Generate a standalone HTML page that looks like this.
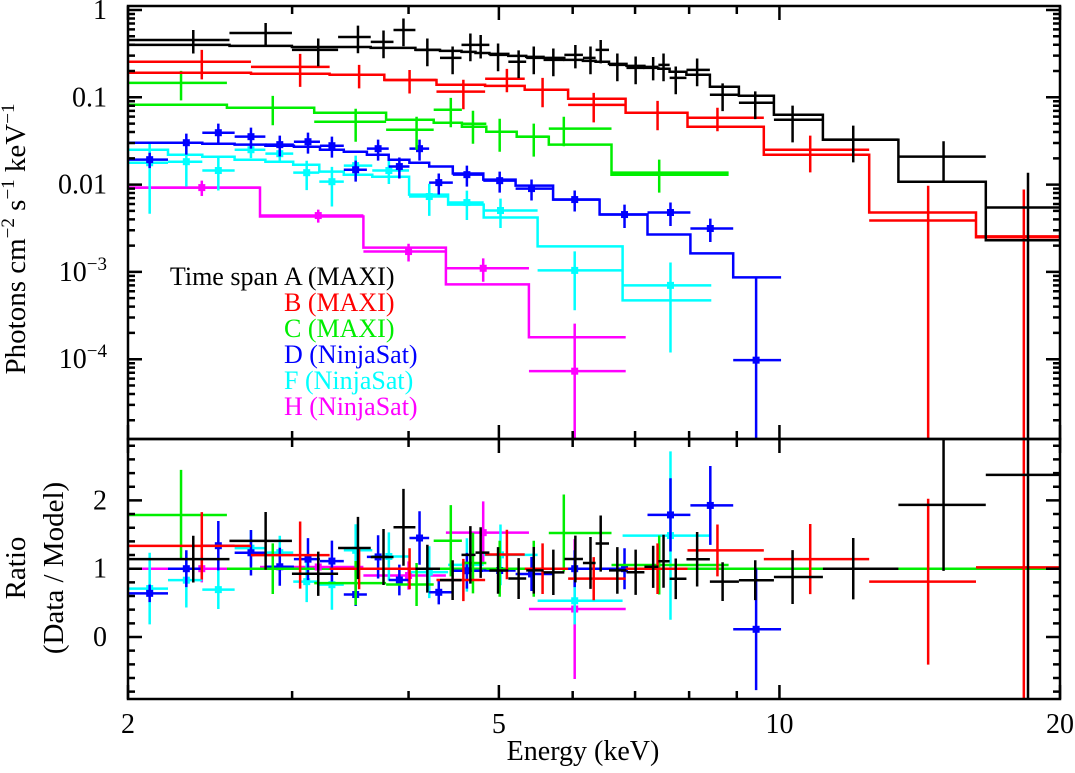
<!DOCTYPE html>
<html><head><meta charset="utf-8"><style>
html,body{margin:0;padding:0;background:#fff;}
svg{display:block;font-family:"Liberation Serif",serif;}
</style></head><body>
<svg id="chart" width="1075" height="773" viewBox="0 0 1075 773" xmlns="http://www.w3.org/2000/svg">
<defs>
<clipPath id="cTop"><rect x="128" y="6" width="932" height="433"/></clipPath>
<clipPath id="cBot"><rect x="128" y="439" width="932" height="260"/></clipPath>
</defs>
<g id="marks"></g>
<g id="axes"></g>
<g id="legend" font-size="26">
<text x="284" y="285" fill="#000"><tspan x="278" text-anchor="end">Time span</tspan><tspan x="284">A (MAXI)</tspan></text>
<text x="284" y="311" fill="#ff0000">B (MAXI)</text>
<text x="284" y="337" fill="#00ee00">C (MAXI)</text>
<text x="284" y="363" fill="#0000ff">D (NinjaSat)</text>
<text x="284" y="389" fill="#00ffff">F (NinjaSat)</text>
<text x="284" y="415" fill="#ff00ff">H (NinjaSat)</text>
</g>
<text font-size="29" text-anchor="middle" transform="translate(25,239) rotate(-90)">Photons cm<tspan dy="-11" font-size="19">−2</tspan><tspan dy="11"> s</tspan><tspan dy="-11" font-size="19">−1</tspan><tspan dy="11"> keV</tspan><tspan dy="-11" font-size="19">−1</tspan></text>
<text font-size="29" text-anchor="middle" transform="translate(25,568) rotate(-90)">Ratio</text>
<text font-size="29" text-anchor="middle" transform="translate(63,568) rotate(-90)">(Data / Model)</text>
<text font-size="28" text-anchor="middle" x="583" y="760">Energy (keV)</text>
</svg>
<script>
// ---- data ----
const aE=[2.35,2.81,3.20,3.53,3.76,3.95,4.19,4.46,4.66,4.78,4.99,5.25,5.45,5.72,6.04,6.27,6.43,6.70,7.01,7.32,7.51,7.74,8.16,8.69,9.42,10.33,12.0,15.0,18.48];
const aV=[.454,.546,.349,.491,.431,.591,.349,.283,.398,.398,.306,.255,.283,.268,.306,.283,.349,.235,.217,.223,.235,.167,.206,.107,.0865,.0553,.0327,.0209,.00546];
const aM=[.398,.388,.377,.377,.368,.368,.349,.340,.331,.322,.314,.298,.290,.283,.268,.261,.255,.241,.229,.217,.212,.196,.181,.132,.104,.063,.0327,.0108,.0023];
const aR=[.3,.3,.35,.35,.35,.35,.35,.35,.35,.3,.35,.35,.35,.35,.3,.35,.3,.35,.35,.3,.35,.35,.35,.35,.35,.45,.45,.5,1.5];
const bE=[2.40,3.06,3.54,4.01,4.58,5.10,5.57,6.32,7.40,8.58,10.79,14.44,18.29];
const bV=[.255,.223,.181,.158,.116,.163,.122,.082,.0665,.0583,.0251,.00388,.00255];
const bM=[.191,.186,.181,.158,.139,.135,.122,.096,.0665,.046,.022,.00479,.0025];
const bR=[.37,.41,.3,.3,.37,.3,.37,.37,.37,.3,.45,1.5,2.45];
const cE=[2.28,2.86,3.51,4.08,4.44,4.69,5.01,5.45,5.87,7.43];
const cV=[.1465,.0759,.0525,.0425,.0720,.0498,.0403,.0354,.0437,.0137];
const cM=[.082,.0759,.0665,.0553,.0511,.046,.0403,.0354,.0287,.013];
const cR=[.37,.37,.41,.41,.37,.41,.41,.41,.37,.41];
const dE=[2.11,2.31,2.50,2.71,2.91,3.12,3.31,3.51,3.71,3.91,4.11,4.31,4.62,5.01,5.42,6.03,6.82,7.64,8.43,9.44];
const dV=[.0193,.0302,.0393,.0354,.0287,.031,.0279,.0148,.0258,.0161,.0258,.01054,.013,.0111,.009,.00674,.00454,.00479,.00314,.0000975];
const dM=[.0302,.0302,.0294,.0287,.0279,.0272,.0251,.0238,.022,.0193,.0178,.0161,.0134,.0114,.00975,.00674,.00454,.00268,.00163,.000865];
const dR=[.2,.27,.27,.27,.27,.27,.27,.27,.27,.27,.27,.27,.27,.27,.27,.27,.3,.3,.3,7.9];
const fE=[2.11,2.31,2.50,2.71,2.91,3.11,3.31,3.51,3.81,4.21,4.62,5.02,6.03,7.64];
const fV=[.0178,.0183,.0145,.0251,.0226,.0137,.0108,.0165,.0145,.0073,.00623,.00505,.00104,.000701];
const fM=[.0251,.022,.0209,.0193,.0183,.0169,.0141,.013,.0123,.00769,.0059,.0042,.00196,.000472];
const fR=[.74,.48,.41,.2,.2,.37,.48,.3,.3,.4,.37,.37,.65,.83];
const hE=[2.40,3.20,4.0,4.81,6.03];
const hV=[.00924,.00442,.00171,.0011,.0000729];
const hM=[.00924,.00431,.0019,.00072,.000178];
const hR=[.2,.17,.23,.3,2.5];
const aEdge=[2.0,20.0], bEdge=[2.0,20.0], cEdge=[2.0,8.82], dEdge=[2.0,10.04], fEdge=[2.0,8.45], hEdge=[2.0,6.84];
const xTicks=[2,5,10,20], xTickLabels=["2","5","10","20"];
const yTopTicks=[1,0.1,0.01,0.001,0.0001];
const yRatioTicks=[0,1,2];

// ---- axes ----
const X0=128,X1=1060,TOP=6,MID=439,BOT=699;
const xs=e=>X0+(X1-X0)*Math.log10(e/2);
const ys=v=>10-87.3*Math.log10(v);
const yr=r=>637-68.3*r;
const NS='http://www.w3.org/2000/svg';
const marks=document.getElementById('marks'), axes=document.getElementById('axes');
function mk(tag,attrs,parent){const el=document.createElementNS(NS,tag);for(const k in attrs)el.setAttribute(k,attrs[k]);parent.appendChild(el);return el;}

const gTop=mk('g',{'clip-path':'url(#cTop)'},marks);


const gBot=mk('g',{'clip-path':'url(#cBot)'},marks);



const one=mk('line',{x1:X0,x2:X1,y1:yr(1),y2:yr(1),stroke:'#00ee00','stroke-width':2.5},gBot);



function edgesOf(E,ends){const ed=[ends[0]];for(let i=0;i<E.length-1;i++)ed.push(Math.sqrt(E[i]*E[i+1]));ed.push(ends[1]);return ed;}

function series(name,E,V,M,R,ends,color,sq){
  const ed=edgesOf(E,ends);
  const g=mk('g',{stroke:color,'stroke-width':2.5,fill:'none'},gTop);
  
  
  let d='';
  for(let i=0;i<E.length;i++){
    const y=ys(M[i]);
    d+=(i===0?'M':'L')+xs(ed[i]).toFixed(1)+' '+y.toFixed(1)+' L'+xs(ed[i+1]).toFixed(1)+' '+y.toFixed(1)+' ';
  }
  const mp=mk('path',{d:d},g);
  
  
  const gr=mk('g',{stroke:color,'stroke-width':2.5,fill:'none'},gBot);
  
  
  for(let i=0;i<E.length;i++){
    const x=xs(E[i]),xl=xs(ed[i]),xh=xs(ed[i+1]);
    const v=V[i],err=R[i]*v;
    const y=ys(v),yu=ys(v+err),yl=(v-err)>0?ys(v-err):460;
    const p=mk('path',{d:`M${xl} ${y}H${xh}M${x} ${yu}V${yl}`},g);
    
    
    if(sq){const s=mk('rect',{x:x-3.5,y:y-3.5,width:7,height:7,fill:color,stroke:'none'},g);
      
      }
    const r=v/M[i],re=R[i]*r;
    const ry=yr(r);
    const q=mk('path',{d:`M${xl} ${ry}H${xh}M${x} ${yr(r+re)}V${yr(r-re)}`},gr);
    
    
    if(sq){const s2=mk('rect',{x:x-3.5,y:ry-3.5,width:7,height:7,fill:color,stroke:'none'},gr);
      
      }
  }
}
series('h',hE,hV,hM,hR,hEdge,'#ff00ff',true);
series('f',fE,fV,fM,fR,fEdge,'#00ffff',true);
series('d',dE,dV,dM,dR,dEdge,'#0000ff',true);
series('c',cE,cV,cM,cR,cEdge,'#00ee00',false);
series('b',bE,bV,bM,bR,bEdge,'#ff0000',false);
series('a',aE,aV,aM,aR,aEdge,'#000000',false);

const f1=mk('rect',{x:X0,y:TOP,width:X1-X0,height:MID-TOP,fill:'none',stroke:'#000','stroke-width':2.5},axes);


const f2=mk('rect',{x:X0,y:MID,width:X1-X0,height:BOT-MID,fill:'none',stroke:'#000','stroke-width':2.5},axes);


let td='';
for(let e=2;e<=20;e++){
  if(e>10 && e!==20) continue;
  const major=xTicks.includes(e), L=major?14:8, x=xs(e);
  td+=`M${x} ${TOP}v${L}M${x} ${MID}v${-L}M${x} ${MID}v${L}M${x} ${BOT}v${-L}`;
}
for(let p=-5;p<=0;p++){for(let m=1;m<=9;m++){const v=m*Math.pow(10,p),y=ys(v);if(y<TOP||y>MID)continue;const L=m===1?14:7;td+=`M${X0} ${y}h${L}M${X1} ${y}h${-L}`;}}
for(let k=-4;k<=14;k++){const r=k*0.2,y=yr(r);if(y<MID+1||y>BOT-1)continue;const L=(k%5===0)?14:7;td+=`M${X0} ${y}h${L}M${X1} ${y}h${-L}`;}
const tk=mk('path',{d:td,stroke:'#000','stroke-width':2.5,fill:'none'},axes);


xTicks.forEach((e,i)=>{const t=mk('text',{x:xs(e),y:733,'font-size':28,'text-anchor':'middle'},axes);t.textContent=xTickLabels[i];
  
  });
const topLab=['1','0.1','0.01'];
yTopTicks.forEach((v,i)=>{const t=mk('text',{x:107,y:ys(v)+9,'font-size':28,'text-anchor':'end'},axes);
  if(i<3)t.textContent=topLab[i];else{t.textContent='10';const s=mk('tspan',{dy:-11,'font-size':19},t);s.textContent=(i===3?'−3':'−4');}
  
  });
yRatioTicks.forEach(r=>{const t=mk('text',{x:107,y:yr(r)+9,'font-size':28,'text-anchor':'end'},axes);t.textContent=String(r);
  
  });
</script>
</body></html>
